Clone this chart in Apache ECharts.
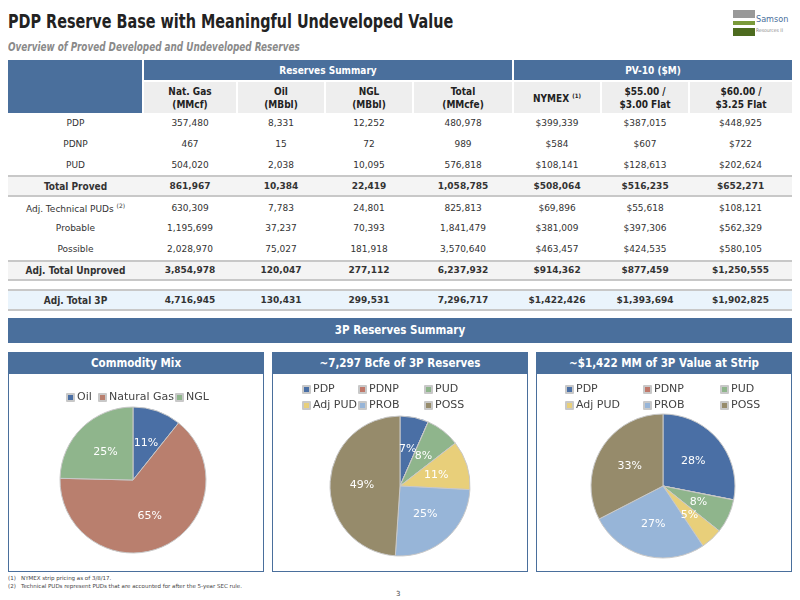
<!DOCTYPE html>
<html><head><meta charset="utf-8">
<script src="https://cdn.jsdelivr.net/npm/echarts@6/dist/echarts.min.js"></script>
<style>
body{margin:0;width:800px;height:600px;background:#fff;position:relative;overflow:hidden;font-family:"DejaVu Sans",sans-serif}
.abs{position:absolute}
.nar{font-family:"DejaVu Sans Condensed","DejaVu Sans",sans-serif;font-stretch:condensed}
#title{left:8px;top:9px;font-weight:bold;font-size:20px;color:#222;transform:scaleX(0.8);transform-origin:left;white-space:nowrap}
#sub{left:8px;top:40px;font-style:italic;font-weight:bold;font-size:12px;color:#8a8a8a;transform:scaleX(0.82);transform-origin:left;white-space:nowrap}
table{position:absolute;left:8px;top:60px;width:784px;border-collapse:collapse;table-layout:fixed}
td,th{text-align:center;font-size:9px;color:#333;padding:0;height:20.8px}
th{font-size:10px;font-weight:bold}
.h1 th{background:#4a6f9c;color:#fff;height:20px;border-left:2px solid #fff}
.h2 th{background:#eeeeee;color:#222;height:31px;border-left:2px solid #fff;border-top:2px solid #fff;line-height:13px}
.tot td{background:#f4f4f4;font-weight:bold;border-top:2px solid #c8c8c8;border-bottom:2px solid #c8c8c8;height:17.8px}
.t3 td{background:#eaf4fc;font-weight:bold;border-top:2px solid #c8c8c8;border-bottom:2px solid #c8c8c8;height:17.8px}
.bar{background:#4a6f9c;color:#fff;font-weight:bold;font-size:11.5px;text-align:center}
.panel{border:1px solid #4a6f9c;box-sizing:border-box;top:352px;height:220px;width:256px}
.ph{height:21px;line-height:21px}
.foot{left:8px;font-size:5.5px;color:#444}
#chart{left:0;top:0;width:800px;height:600px}
sup{font-size:6px}
</style></head><body>
<div id="title" class="abs nar">PDP Reserve Base with Meaningful Undeveloped Value</div>
<div id="sub" class="abs nar">Overview of Proved Developed and Undeveloped Reserves</div>
<div class="abs" style="left:733px;top:10px;width:22px;height:26px">
<div style="height:8px;background:#999;margin-bottom:3px"></div><div style="height:4px;background:#7a9a3a;margin-bottom:3px"></div><div style="height:8px;background:#4d6b1f"></div></div>
<div class="abs nar" style="left:756px;top:14px;font-size:9px;color:#4a6f9c">Samson<br><span style="font-size:5px;color:#888">Resources II</span></div>
<table id="tbl" class="">
<colgroup><col style="width:135px"><col style="width:94px"><col style="width:88px"><col style="width:88px"><col style="width:100px"><col style="width:88px"><col style="width:88px"><col style="width:103px"></colgroup>
<tr class="h1 nar"><th rowspan="2" class="nar" style="border-left:none;background:#4a6f9c"></th><th colspan="4" class="nar">Reserves Summary</th><th colspan="3" class="nar">PV-10 ($M)</th></tr>
<tr class="h2" id="hdr2"></tr>
</table>
<div class="abs bar nar" style="left:8px;top:318px;width:784px;height:25px;line-height:25px">3P Reserves Summary</div>
<div class="abs panel" style="left:8px"><div class="bar ph nar">Commodity Mix</div></div>
<div class="abs panel" style="left:272px"><div class="bar ph nar">~7,297 Bcfe of 3P Reserves</div></div>
<div class="abs panel" style="left:536px"><div class="bar ph nar">~$1,422 MM of 3P Value at Strip</div></div>
<div class="abs foot" style="top:575px">(1)&nbsp;&nbsp;&nbsp;NYMEX strip pricing as of 3/8/17.</div>
<div class="abs foot" style="top:583px">(2)&nbsp;&nbsp;&nbsp;Technical PUDs represent PUDs that are accounted for after the 5-year SEC rule.</div>
<div class="abs" style="left:396px;top:590px;font-size:7px;color:#444">3</div>
<div id="chart" class="abs"></div>
<script>
const colHeaders=["Nat. Gas<br>(MMcf)","Oil<br>(MBbl)","NGL<br>(MBbl)","Total<br>(MMcfe)","NYMEX <sup>(1)</sup>","$55.00 /<br>$3.00 Flat","$60.00 /<br>$3.25 Flat"];
const rowLabels=["PDP","PDNP","PUD","Total Proved","Adj. Technical PUDs <sup>(2)</sup>","Probable","Possible","Adj. Total Unproved","Adj. Total 3P"];
const natGas=["357,480","467","504,020","861,967","630,309","1,195,699","2,028,970","3,854,978","4,716,945"];
const oil=["8,331","15","2,038","10,384","7,783","37,237","75,027","120,047","130,431"];
const ngl=["12,252","72","10,095","22,419","24,801","70,393","181,918","277,112","299,531"];
const totalMMcfe=["480,978","989","576,818","1,058,785","825,813","1,841,479","3,570,640","6,237,932","7,296,717"];
const nymex=["$399,339","$584","$108,141","$508,064","$69,896","$381,009","$463,457","$914,362","$1,422,426"];
const flat55=["$387,015","$607","$128,613","$516,235","$55,618","$397,306","$424,535","$877,459","$1,393,694"];
const flat60=["$448,925","$722","$202,624","$652,271","$108,121","$562,329","$580,105","$1,250,555","$1,902,825"];
const rowClass=["","","","tot","","","","tot","t3"];

const mixNames=["Oil","Natural Gas","NGL"];
const mixValues=[782586,4716945,1797186];
const catNames=["PDP","PDNP","PUD","Adj PUD","PROB","POSS"];
const bcfeValues=[480978,989,576818,825813,1841479,3570640];
const pvValues=[399339,584,108141,69896,381009,463457];

const cols=[natGas,oil,ngl,totalMMcfe,nymex,flat55,flat60];
document.getElementById('hdr2').innerHTML=colHeaders.map(h=>'<th class="nar">'+h+'</th>').join('');
const tbl=document.getElementById('tbl');
rowLabels.forEach((l,i)=>{
  if(i===8){const g=document.createElement('tr');g.innerHTML='<td colspan="8" style="height:8px"></td>';tbl.appendChild(g);}
  const tr=document.createElement('tr');tr.className=rowClass[i];
  tr.innerHTML='<td>'+l+'</td>'+cols.map(c=>'<td>'+c[i]+'</td>').join('');
  if(rowClass[i]){tr.firstChild.className='nar';tr.firstChild.style.fontSize='10px';}
  tbl.appendChild(tr);
});

const cMap={"Oil":"#4a6fa5","Natural Gas":"#b97f6e","NGL":"#8fb58c","PDP":"#4a6fa5","PDNP":"#c0786a","PUD":"#8fb58c","Adj PUD":"#e8cf7a","PROB":"#97b5d8","POSS":"#968b6b"};
const legends=[];
function leg(name,x,y){legends.push({data:[name],left:x,top:y,itemWidth:7,itemHeight:7,icon:'rect',textStyle:{fontSize:11,color:'#444',fontFamily:'DejaVu Sans',padding:[0,0,0,-2]},padding:0});}
leg("Oil",66,392);leg("Natural Gas",98,392);leg("NGL",175,392);
[[302,384],[358,384],[424,384],[302,400],[358,400],[424,400]].forEach((p,i)=>leg(catNames[i],p[0],p[1]));
[[565,384],[643,384],[720,384],[565,400],[643,400],[720,400]].forEach((p,i)=>leg(catNames[i],p[0],p[1]));
function pie(names,vals,cx,cy,r){
  const tot=vals.reduce((a,b)=>a+b,0);
  return {type:'pie',center:[cx,cy],radius:r,startAngle:90,clockwise:true,
    itemStyle:{borderColor:'#c8c8c8',borderWidth:1},
    labelLayout:{hideOverlap:false},
    label:{position:'inside',color:'#fff',fontSize:11,fontFamily:'DejaVu Sans',
      formatter:p=>{const v=p.value/tot*100;return v<2?'':Math.round(v)+'%';}},
    labelLine:{show:false},
    data:names.map((n,i)=>({name:n,value:vals[i],itemStyle:{color:cMap[n]}}))};
}
const chart=echarts.init(document.getElementById('chart'),null,{renderer:'canvas'});
chart.setOption({animation:false,backgroundColor:'transparent',legend:legends,
  series:[pie(mixNames,mixValues,133,480,73),pie(catNames,bcfeValues,400,486,70),pie(catNames,pvValues,663,486,72)]});
</script>
</body></html>
